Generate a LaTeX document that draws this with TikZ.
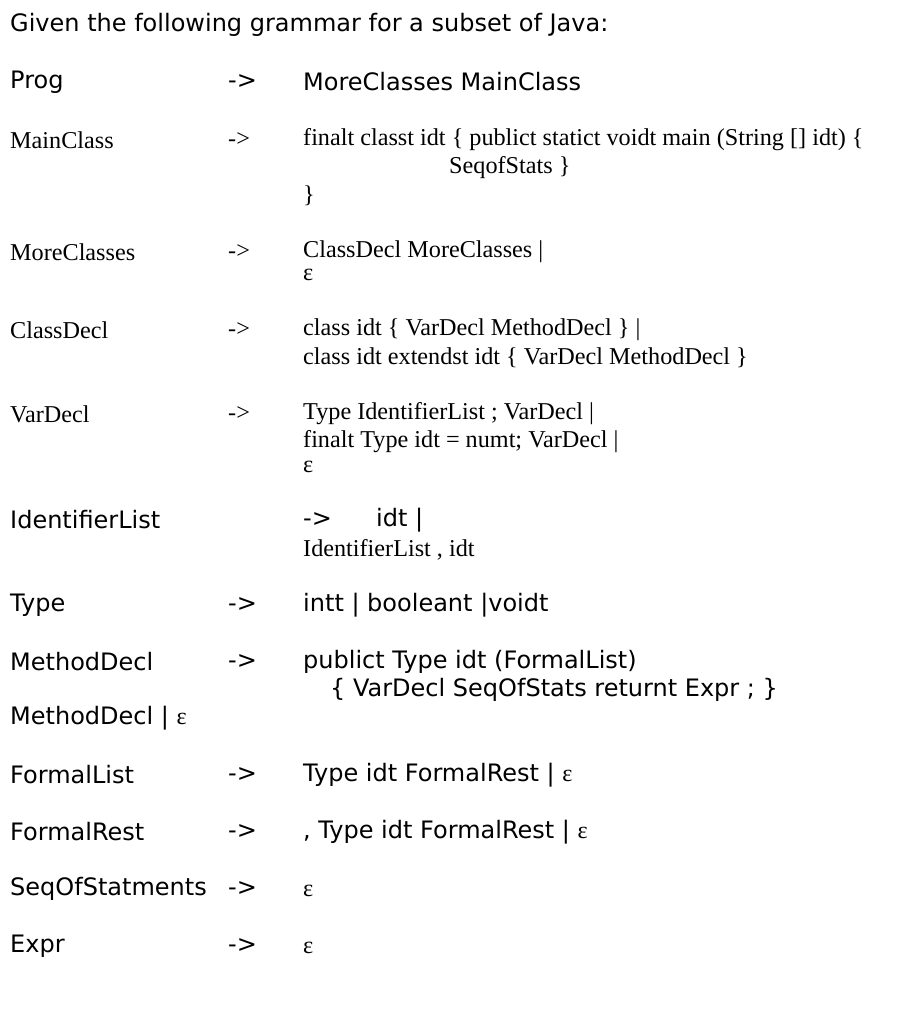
\documentclass[tikz,border=0pt]{standalone}
\usepackage{fontspec}
\setmainfont{Liberation Serif}
\newfontfamily\sansf{DejaVu Sans}
\begin{document}
\begin{tikzpicture}[x=1pt,y=-1pt,
  s/.style={anchor=west,inner sep=0pt,font=\sansf\fontsize{24}{28}\selectfont},
  r/.style={anchor=west,inner sep=0pt,font=\fontsize{24.2}{28}\selectfont}]
\useasboundingbox (0,0) rectangle (918,1024);
\node[s] (t) at (10,25) {Given the following grammar for a subset of Java:};
\node[s] (p1) at (10,82) {Prog};
\node[s] (p2) at (228,82) {->};
\node[s] (p3) at (303,82) {MoreClasses MainClass};
\node[r] (m1) at (10,140) {MainClass};
\node[r] (m2) at (228,140) {->};
\node[r] (m3) at (303,140) {finalt classt idt \{ publict statict voidt main (String [] idt) \{};
\node[r] (m4) at (449,168) {SeqofStats \}};
\node[r] (m5) at (303,196) {\}};
\node[r] (c1) at (10,252) {MoreClasses};
\node[r] (c2) at (228,252) {->};
\node[r] (c3) at (303,252) {ClassDecl MoreClasses |};
\node[r] (c4) at (303,275) {ε};
\node[r] (d1) at (10,330) {ClassDecl};
\node[r] (d2) at (228,330) {->};
\node[r] (d3) at (303,330) {class idt \{ VarDecl MethodDecl \} |};
\node[r] (d4) at (303,358) {class idt extendst idt \{ VarDecl MethodDecl \}};
\node[r] (v1) at (10,414) {VarDecl};
\node[r] (v2) at (228,414) {->};
\node[r] (v3) at (303,414) {Type IdentifierList ; VarDecl |};
\node[r] (v4) at (303,442) {finalt Type idt = numt; VarDecl |};
\node[r] (v5) at (303,467) {ε};
\node[s] (i1) at (10,520) {IdentifierList};
\node[s] (i2) at (303,520) {->};
\node[s] (i3) at (376,520) {idt |};
\node[r] (i4) at (303,550) {IdentifierList , idt};
\node[s] (y1) at (10,605) {Type};
\node[s] (y2) at (228,605) {->};
\node[s] (y3) at (303,605) {intt | booleant |voidt};
\node[s] (md1) at (10,662) {MethodDecl};
\node[s] (md2) at (228,662) {->};
\node[s] (md3) at (303,662) {publict Type idt (FormalList)};
\node[s] (md4) at (330,690) {\{ VarDecl SeqOfStats returnt Expr ; \}};
\node[s] (md5) at (10,718) {MethodDecl | {\rmfamily ε}};
\node[s] (f1) at (10,775) {FormalList};
\node[s] (f2) at (228,775) {->};
\node[s] (f3) at (303,775) {Type idt FormalRest | {\rmfamily ε}};
\node[s] (r1) at (10,832) {FormalRest};
\node[s] (r2) at (228,832) {->};
\node[s] (r3) at (303,832) {, Type idt FormalRest | {\rmfamily ε}};
\node[s] (q1) at (10,889) {SeqOfStatments};
\node[s] (q2) at (228,889) {->};
\node[r] (q3) at (303,891) {ε};
\node[s] (e1) at (10,946) {Expr};
\node[s] (e2) at (228,946) {->};
\node[r] (e3) at (303,948) {ε};
\end{tikzpicture}
\end{document}
